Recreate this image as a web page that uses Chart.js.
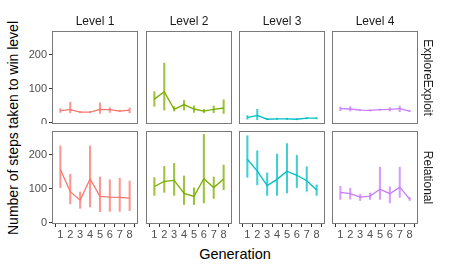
<!DOCTYPE html>
<html>
<head>
<meta charset="utf-8">
<script src="https://cdn.jsdelivr.net/npm/chart.js@4"></script>
<style>
  body { margin: 0; background: #fff; }
  #plot { position: relative; width: 449px; height: 269px; overflow: hidden; font-family: "Liberation Sans", Arial, sans-serif; }
  .cell { position: absolute; }
  .ytitle { position: absolute; left: 13px; top: 128px; transform: translate(-50%, -50%) rotate(-90deg); white-space: nowrap; font-size: 14px; color: #000; }
  .xtitle { position: absolute; left: 235px; top: 254px; transform: translate(-50%, -50%); white-space: nowrap; font-size: 14.5px; color: #000; }
</style>
</head>
<body>
<div id="plot">
  <div class="ytitle">Number of steps taken to win level</div>
  <div class="xtitle">Generation</div>
</div>
<script>
var GENERATION = [1, 2, 3, 4, 5, 6, 7, 8];
var LEVELS = ['Level 1', 'Level 2', 'Level 3', 'Level 4'];
var CONDITIONS = ['ExploreExploit', 'Relational'];
var COLOURS = ['#F8766D', '#7CAE00', '#00BFC4', '#C77CFF'];
var BAR_COLOURS = ['rgba(248,118,109,0.75)', 'rgba(124,174,0,0.75)', 'rgba(0,191,196,0.75)', 'rgba(199,124,255,0.75)'];
var Y_TICKS = [0, 100, 200];

// ExploreExploit, one row per level
var ee_mean = [
  [36, 39, 32, 32, 40, 39, 35, 38],
  [70, 92, 40, 54, 41, 35, 40, 44],
  [16, 22, 11, 12, 12, 11, 14, 14],
  [42, 41, 38, 37, 39, 40, 42, 35]
];
var ee_low = [
  [31, 30, 30, 30, 28, 31, 33, 30],
  [49, 38, 35, 38, 31, 30, 30, 28],
  [11, 9.5, 9.5, 10, 10, 9.5, 12, 12],
  [36, 35, 36, 35, 37, 35, 33, 33]
];
var ee_high = [
  [42, 61, 34, 34, 59, 45, 37, 44],
  [92, 176, 48, 66, 50, 40, 50, 68],
  [22, 40, 13, 14, 14, 13, 16, 16],
  [47, 48, 40, 39, 41, 45, 50, 37]
];

// Relational
var rel_mean = [
  [157, 92, 67, 129, 78, 76, 75, 73],
  [107, 122, 125, 87, 78, 130, 104, 129],
  [187, 152, 110, 128, 152, 140, 124, 97],
  [90, 86, 76, 79, 99, 86, 105, 70]
];
var rel_low = [
  [104, 56, 43, 47, 33, 34, 34, 36],
  [81, 90, 81, 54, 54, 59, 72, 98],
  [134, 112, 81, 81, 88, 104, 93, 81],
  [69, 70, 66, 69, 69, 59, 75, 66]
];
var rel_high = [
  [226, 143, 91, 226, 135, 127, 131, 123],
  [133, 166, 175, 138, 103, 260, 135, 170],
  [256, 212, 147, 202, 233, 199, 165, 112],
  [108, 102, 84, 88, 164, 106, 164, 75]
];

// panel geometry
var PL = [52, 146, 239, 332], PW = 86;
var PT = [31, 131], PH = 93;
var W = 449, H = 269;

Chart.defaults.font.family = '"Liberation Sans", Arial, sans-serif';
Chart.defaults.animation = false;

var panelBorder = {
  id: 'panelBorder',
  afterDraw: function(chart) {
    var a = chart.chartArea, ctx = chart.ctx;
    ctx.save();
    ctx.strokeStyle = '#7a7a7a';
    ctx.lineWidth = 1;
    ctx.strokeRect(Math.round(a.left) + 0.5, Math.round(a.top) + 0.5,
                   Math.round(a.right - a.left) - 1, Math.round(a.bottom - a.top) - 1);
    ctx.restore();
  }
};

function makePanel(r, c) {
  var mean = r == 0 ? ee_mean[c] : rel_mean[c];
  var low = r == 0 ? ee_low[c] : rel_low[c];
  var high = r == 0 ? ee_high[c] : rel_high[c];

  var left = c == 0 ? 0 : PL[c];
  var right = c == 3 ? W : PL[c] + PW;
  var top = r == 0 ? 0 : PT[r];
  var bottom = r == 1 ? H : PT[r] + PH;

  var cell = document.createElement('div');
  cell.className = 'cell';
  cell.style.left = left + 'px';
  cell.style.top = top + 'px';
  cell.style.width = (right - left) + 'px';
  cell.style.height = (bottom - top) + 'px';
  var canvas = document.createElement('canvas');
  cell.appendChild(canvas);
  document.getElementById('plot').appendChild(cell);

  var lineData = [], barData = [];
  for (var i = 0; i < GENERATION.length; i++) {
    lineData.push({x: GENERATION[i], y: mean[i]});
    barData.push({x: GENERATION[i], y: [low[i], high[i]]});
  }

  new Chart(canvas, {
    type: 'line',
    data: {
      datasets: [{
        type: 'line',
        data: lineData,
        borderColor: COLOURS[c],
        borderWidth: 1.3,
        pointRadius: 0,
        tension: 0,
        order: 0
      }, {
        type: 'bar',
        data: barData,
        backgroundColor: BAR_COLOURS[c],
        borderWidth: 0,
        barThickness: 1.4,
        order: 1
      }]
    },
    options: {
      responsive: true,
      maintainAspectRatio: false,
      events: [],
      layout: { padding: 0, autoPadding: false },
      plugins: {
        legend: { display: false },
        tooltip: { enabled: false },
        title: {
          display: r == 0,
          text: LEVELS[c],
          fullSize: false,
          color: '#1A1A1A',
          font: { size: 12, weight: 'normal' },
          padding: { top: 14, bottom: 2.6 }
        }
      },
      scales: {
        x: {
          type: 'linear',
          min: 0.155,
          max: 8.845,
          offset: false,
          display: r == 1,
          afterBuildTicks: function(s) { s.ticks = GENERATION.map(function(v) { return {value: v}; }); },
          afterFit: function(s) {
            s.height = r == 1 ? H - (PT[1] + PH) : 0;
            s.paddingLeft = 0; s.paddingRight = 0;
          },
          grid: { drawOnChartArea: false, tickLength: 3, color: '#333', tickWidth: 1 },
          border: { display: false },
          ticks: { color: '#4D4D4D', font: { size: 11 }, padding: 1, autoSkip: false, maxRotation: 0 }
        },
        y: {
          type: 'linear',
          min: -3,
          max: 270,
          display: c == 0,
          afterBuildTicks: function(s) { s.ticks = Y_TICKS.map(function(v) { return {value: v}; }); },
          afterFit: function(s) {
            s.width = c == 0 ? PL[0] : 0;
            s.paddingTop = 0; s.paddingBottom = 0;
          },
          grid: { drawOnChartArea: false, tickLength: 3, color: '#333', tickWidth: 1 },
          border: { display: false },
          ticks: { color: '#4D4D4D', font: { size: 11 }, padding: 2 }
        },
        strip: {
          type: 'linear',
          position: 'right',
          display: c == 3,
          afterFit: function(s) {
            s.width = c == 3 ? W - (PL[3] + PW) : 0;
            s.paddingTop = 0; s.paddingBottom = 0;
          },
          grid: { display: false },
          border: { display: false },
          ticks: { display: false },
          title: {
            display: true,
            text: CONDITIONS[r],
            color: '#1A1A1A',
            font: { size: 12 },
            padding: { top: 14, bottom: 0 }
          }
        }
      }
    },
    plugins: [panelBorder]
  });
}

for (var r = 0; r < 2; r++) {
  for (var c = 0; c < 4; c++) {
    makePanel(r, c);
  }
}
</script>
</body>
</html>
